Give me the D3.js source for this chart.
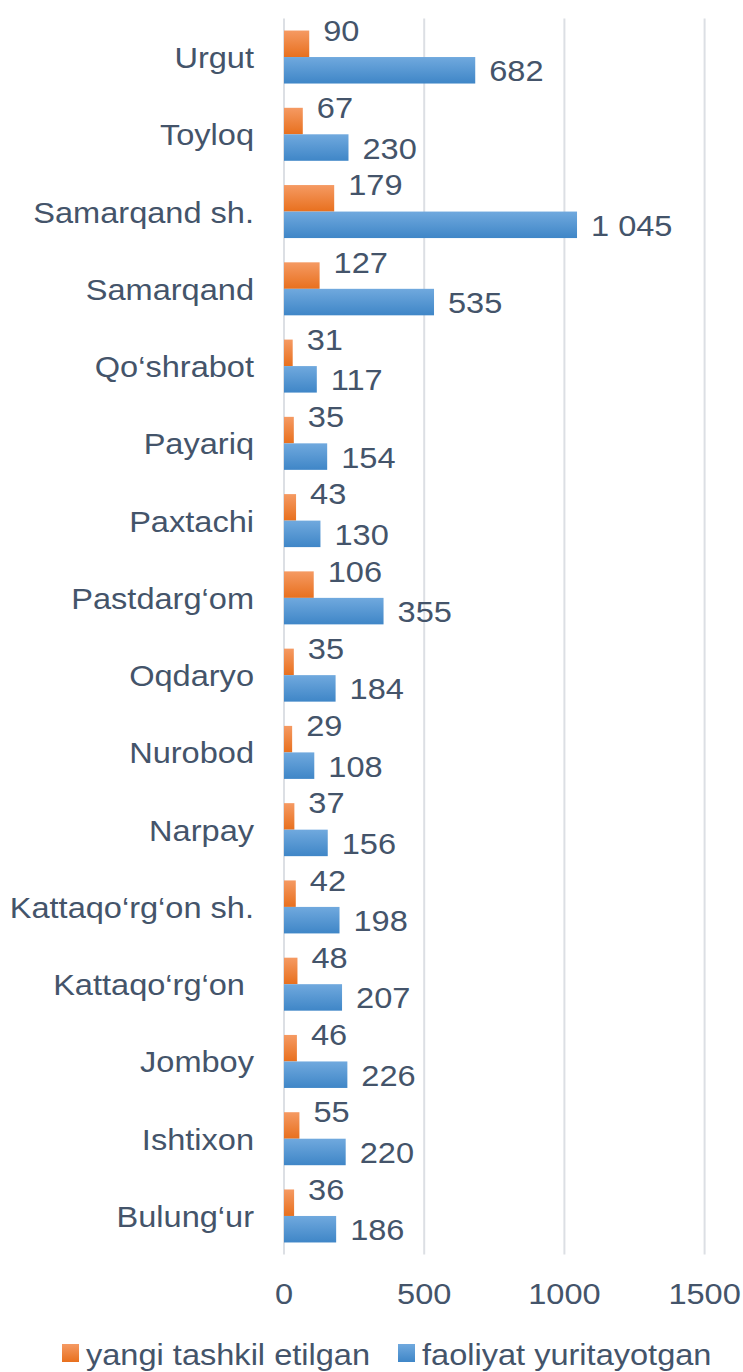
<!DOCTYPE html>
<html>
<head>
<meta charset="utf-8">
<script src="https://cdn.jsdelivr.net/npm/d3@7"></script>
<style>
  html, body { margin: 0; padding: 0; background: #fff; }
  svg { display: block; }
</style>
</head>
<body>
<div id="chart"></div>
<script>
// Districts, top to bottom
const categories = ["Urgut", "Toyloq", "Samarqand sh.", "Samarqand", "Qo‘shrabot", "Payariq",
  "Paxtachi", "Pastdarg‘om", "Oqdaryo", "Nurobod", "Narpay", "Kattaqo‘rg‘on sh.",
  "Kattaqo‘rg‘on ", "Jomboy", "Ishtixon", "Bulung‘ur"];
const newlyCreated = [90, 67, 179, 127, 31, 35, 43, 106, 35, 29, 37, 42, 48, 46, 55, 36];
const operating = [682, 230, 1045, 535, 117, 154, 130, 355, 184, 108, 156, 198, 207, 226, 220, 186];
const xTicks = [0, 500, 1000, 1500];
const seriesNames = ["yangi tashkil etilgan", "faoliyat yuritayotgan"];

const W = 743, H = 1372;
const FONT = "'Liberation Sans', Arial, sans-serif";
const TEXT = "#44546A";
const SX = 1.085; // reference text is a little wider than Arial metrics

const svg = d3.select("#chart").append("svg").attr("width", W).attr("height", H);
const defs = svg.append("defs");

function vGrad(id, top, bottom) {
  const g = defs.append("linearGradient").attr("id", id)
    .attr("x1", 0).attr("y1", 0).attr("x2", 0).attr("y2", 1);
  g.append("stop").attr("offset", "0%").attr("stop-color", top);
  g.append("stop").attr("offset", "100%").attr("stop-color", bottom);
}
vGrad("g-orange", "#F59A63", "#E8701E");
vGrad("g-blue", "#70A9DE", "#3F86C7");

// text placed via transform so it can be stretched horizontally
function label(sel, fx, fy) {
  return sel.attr("transform", (d, i) => `translate(${fx(d, i)},${fy(d, i)}) scale(${SX},1)`)
    .attr("fill", TEXT).attr("font-family", FONT).attr("font-size", 30);
}

const x = d3.scaleLinear().domain([0, 1500]).range([284, 704.6]);
const y = d3.scaleBand().domain(categories).range([18.4, 1254.6]);
const inner = d3.scaleBand().domain(["o", "b"]).range([0, 53]);
const barOff = (y.bandwidth() - 53) / 2;

// gridlines
svg.append("g").selectAll("line").data(xTicks).join("line")
  .attr("x1", d => x(d)).attr("x2", d => x(d))
  .attr("y1", y.range()[0]).attr("y2", y.range()[1])
  .attr("stroke", "#DCDFE4").attr("stroke-width", 2);

// x tick labels
label(svg.append("g").selectAll("text").data(xTicks).join("text"), d => x(d), () => 1304)
  .attr("text-anchor", "middle").text(d => d);

// category labels
label(svg.append("g").selectAll("text").data(categories).join("text"),
  () => 254, d => y(d) + y.bandwidth() / 2 + 11)
  .attr("text-anchor", "end").style("white-space", "pre").text(d => d);

const fmt = v => d3.format(",")(v).replace(/,/g, " ");

const rows = categories.map((c, i) => ({ c, o: newlyCreated[i], b: operating[i] }));
const g = svg.append("g");

// orange bars
g.selectAll("rect.o").data(rows).join("rect").attr("class", "o")
  .attr("x", x(0)).attr("y", d => y(d.c) + barOff + inner("o"))
  .attr("width", d => x(d.o) - x(0)).attr("height", inner.bandwidth())
  .attr("fill", "url(#g-orange)");

// blue bars
g.selectAll("rect.b").data(rows).join("rect").attr("class", "b")
  .attr("x", x(0)).attr("y", d => y(d.c) + barOff + inner("b"))
  .attr("width", d => x(d.b) - x(0)).attr("height", inner.bandwidth())
  .attr("fill", "url(#g-blue)");

// value labels (orange ones sit a bit above their bar)
label(g.selectAll("text.o").data(rows).join("text").attr("class", "o"),
  d => x(d.o) + 14,
  d => y(d.c) + barOff + inner("o") + inner.bandwidth() / 2 - 14 + 11)
  .text(d => fmt(d.o));
label(g.selectAll("text.b").data(rows).join("text").attr("class", "b"),
  d => x(d.b) + 14,
  d => y(d.c) + barOff + inner("b") + inner.bandwidth() / 2 + 11)
  .text(d => fmt(d.b));

// legend
const legend = svg.append("g");
const legX = [62, 398];
const legFill = ["url(#g-orange)", "url(#g-blue)"];
seriesNames.forEach((name, i) => {
  legend.append("rect").attr("x", legX[i]).attr("y", 1344)
    .attr("width", 17).attr("height", 18).attr("fill", legFill[i]);
  label(legend.append("text"), () => legX[i] + 24, () => 1365).text(name);
});
</script>
</body>
</html>
